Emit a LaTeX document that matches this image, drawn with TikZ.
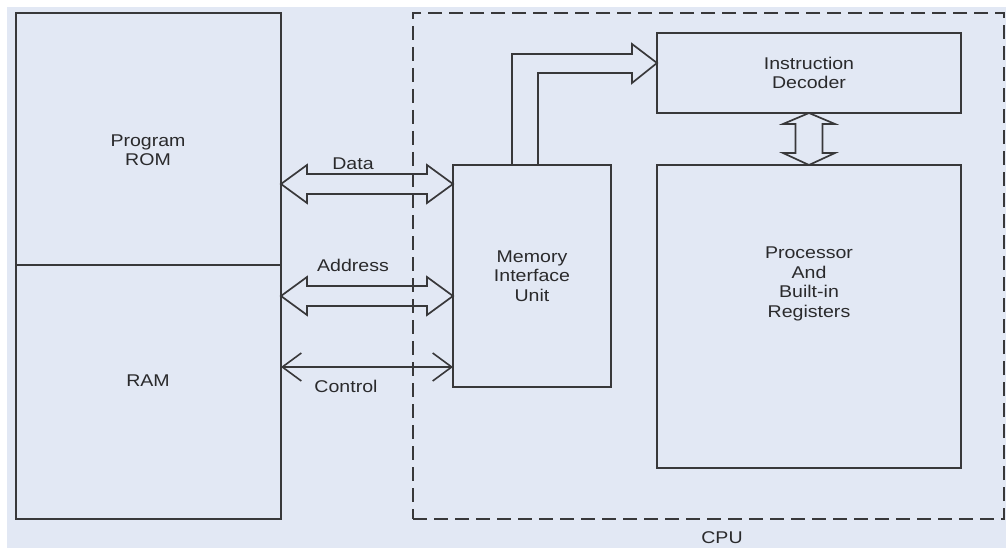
\documentclass[tikz,border=0pt]{standalone}
\usepackage{fontspec}
\setmainfont{Liberation Sans}[FakeStretch=1.15]
\usetikzlibrary{calc,arrows.meta}
\definecolor{bgblue}{HTML}{E2E8F4}
\definecolor{ink}{HTML}{38383A}
\definecolor{txt}{HTML}{2A2A2C}
\tikzset{
  box/.style={draw=ink, line width=2pt, inner sep=0pt, outer sep=0pt},
  cpubox/.style={draw=ink, line width=2pt, dash pattern=on 14pt off 7pt, inner sep=0pt, outer sep=0pt},
  blockarrow/.style={draw=ink, line width=1.7pt, line join=miter},
  txtlabel/.style={text=txt, align=center, font=\fontsize{17}{19.5}\selectfont, inner sep=0pt},
}
% double block arrow between two tips on one horizontal line
\newcommand\hbus[2]{%
  \draw[blockarrow] (#1) -- ($(#1)+(26,-19)$) -- ($(#1)+(26,-10)$)
    -- ($(#2)+(-26,-10)$) -- ($(#2)+(-26,-19)$) -- (#2)
    -- ($(#2)+(-26,19)$) -- ($(#2)+(-26,10)$)
    -- ($(#1)+(26,10)$) -- ($(#1)+(26,19)$) -- cycle;}
\begin{document}
\begin{tikzpicture}[x=1pt,y=-1pt]
  % canvas
  \fill[white] (0,0) rectangle (1006,548);
  \fill[bgblue] (7,7) rectangle (1006,548);
  \useasboundingbox (0,0) rectangle (1006,548);

  % memory side
  \node[box, minimum width=265pt, minimum height=506pt] (mem) at (148.5,266) {};
  \draw[ink, line width=1.6pt] (mem.west |- 0,265) -- (mem.east |- 0,265);
  \node[txtlabel] (rom) at (148,150) {Program\\ROM};
  \node[txtlabel] (ram) at (148,381) {RAM};

  % CPU
  \node[cpubox, minimum width=591pt, minimum height=506pt] (cpu) at (708.5,266) {};
  \node[txtlabel] (cpulbl) at (722,538) {CPU};
  \node[box, minimum width=158pt, minimum height=222pt, txtlabel] (miu) at (532,276) {Memory\\Interface\\Unit};
  \node[box, minimum width=304pt, minimum height=80pt, txtlabel] (dec) at (809,73) {Instruction\\Decoder};
  \node[box, minimum width=304pt, minimum height=303pt] (proc) at (809,316.5) {};
  \node[txtlabel] (proctxt) at (809,284) {Processor\\And\\Built-in\\Registers};

  % data and address buses
  \coordinate (dL) at (mem.east |- 0,184);
  \coordinate (dR) at (miu.west |- 0,184);
  \hbus{dL}{dR}
  \node[txtlabel] (datalbl) at (353,164) {Data};
  \coordinate (aL) at (mem.east |- 0,296);
  \coordinate (aR) at (miu.west |- 0,296);
  \hbus{aL}{aR}
  \node[txtlabel] (addrlbl) at (353,265) {Address};

  % control line
  \draw[ink, line width=1.6pt, {Straight Barb[length=19pt,width=28pt]}-{Straight Barb[length=19pt,width=28pt]}]
    (mem.east |- 0,367) -- (miu.west |- 0,367);
  \node[txtlabel] (ctrllbl) at (346,386) {Control};

  % memory interface to instruction decoder
  \coordinate (up) at (dec.west |- 0,63);
  \draw[blockarrow] (miu.north -| 512,0) -- (512,54) -- ($(up)+(-25,-9)$)
    -- ($(up)+(-25,-19)$) -- (up) -- ($(up)+(-25,20)$) -- ($(up)+(-25,10)$)
    -- (538,73) -- (miu.north -| 538,0);

  % decoder to processor
  \coordinate (vt) at (dec.south);
  \coordinate (vb) at (proc.north);
  \draw[blockarrow] (vt) -- ($(vt)+(26,11)$) -- ($(vt)+(13.5,11)$)
    -- ($(vb)+(13.5,-12)$) -- ($(vb)+(26,-12)$) -- (vb)
    -- ($(vb)+(-26,-12)$) -- ($(vb)+(-13.5,-12)$)
    -- ($(vt)+(-13.5,11)$) -- ($(vt)+(-26,11)$) -- cycle;
\end{tikzpicture}
\end{document}
